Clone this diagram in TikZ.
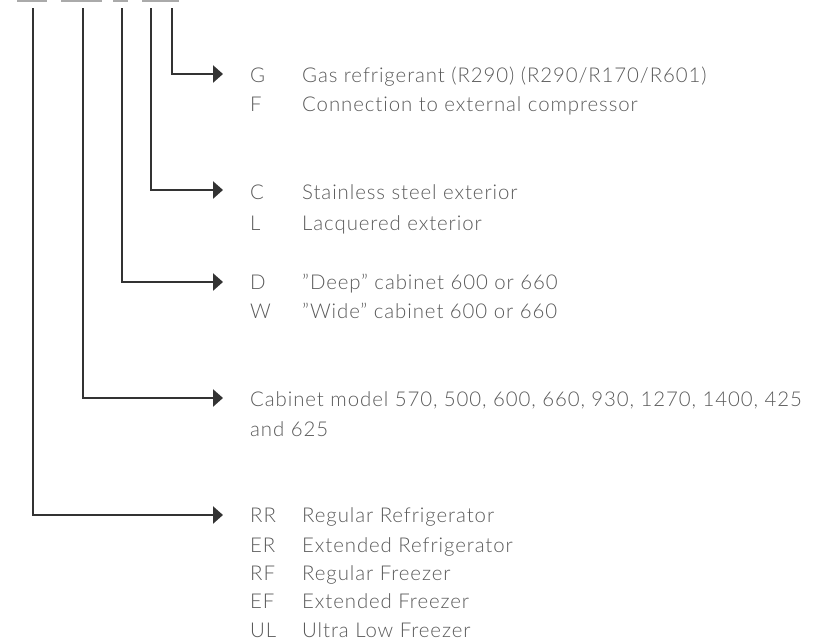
\documentclass[tikz,border=0pt]{standalone}
\usepackage{fontspec}
\setmainfont{Lato Light}[LetterSpace=4.5,Ligatures=NoCommon]
\usetikzlibrary{arrows.meta}
\definecolor{txt}{HTML}{5A5A5A}
\definecolor{ln}{HTML}{333333}
\definecolor{bar}{HTML}{AAAAAA}
\begin{document}
\begin{tikzpicture}[x=1pt,y=-1pt,
  conn/.style={draw=ln,line width=2.8pt,-{Triangle[length=10pt,width=17pt]},line cap=butt},
  code/.style={anchor=base west,inner sep=0,text=txt,font=\fontsize{20.4}{29}\selectfont},
  desc/.style={anchor=base west,inner sep=0,text=txt,font=\fontsize{20.4}{30}\selectfont,align=left},
  topbar/.style={fill=bar,draw=none}]
\useasboundingbox (0,0) rectangle (816,643);
% top bars
\fill[topbar] (17,0) rectangle (47,1.5);
\fill[topbar] (61,0) rectangle (102,1.5);
\fill[topbar] (113,0) rectangle (128,1.5);
\fill[topbar] (142,0) rectangle (179,1.5);
% line starts
\coordinate (s1) at (33,8);
\coordinate (s2) at (83,8);
\coordinate (s3) at (122,8);
\coordinate (s4) at (151,8);
\coordinate (s5) at (172,8);
% arrow tips
\coordinate (t5) at (223,74);
\coordinate (t4) at (223,190);
\coordinate (t3) at (223,282);
\coordinate (t2) at (223,398);
\coordinate (t1) at (223,515);
\draw[conn] (s5) |- (t5);
\draw[conn] (s4) |- (t4);
\draw[conn] (s3) |- (t3);
\draw[conn] (s2) |- (t2);
\draw[conn] (s1) |- (t1);
% group 5
\node[code] (cG) at (250,82) {G};
\node[desc] (dG) at (302,82) {Gas refrigerant (R290) (R290/R170/R601)};
\node[code] (cF) at (250,111) {F};
\node[desc] (dF) at (302,111) {Connection to external compressor};
% group 4
\node[code] (cC) at (250,199) {C};
\node[desc] (dC) at (302,199) {Stainless steel exterior};
\node[code] (cL) at (250,230) {L};
\node[desc] (dL) at (302,230) {Lacquered exterior};
% group 3
\node[code] (cD) at (250,289) {D};
\node[desc] (dD) at (302,289) {"Deep" cabinet 600 or 660};
\node[code] (cW) at (250,318) {W};
\node[desc] (dW) at (302,318) {"Wide" cabinet 600 or 660};
% group 2
\node[desc] (dM) at (250,406) {Cabinet model 570, 500, 600, 660, 930, 1270, 1400, 425};
\node[desc] (dM2) at (250,436) {and 625};
% group 1
\node[code] (cRR) at (250,522) {RR};
\node[desc] (dRR) at (302,522) {Regular Refrigerator};
\node[code] (cER) at (250,552) {ER};
\node[desc] (dER) at (302,552) {Extended Refrigerator};
\node[code] (cRF) at (250,580) {RF};
\node[desc] (dRF) at (302,580) {Regular Freezer};
\node[code] (cEF) at (250,608) {EF};
\node[desc] (dEF) at (302,608) {Extended Freezer};
\node[code] (cUL) at (250,637) {UL};
\node[desc] (dUL) at (302,637) {Ultra Low Freezer};
\end{tikzpicture}
\end{document}
